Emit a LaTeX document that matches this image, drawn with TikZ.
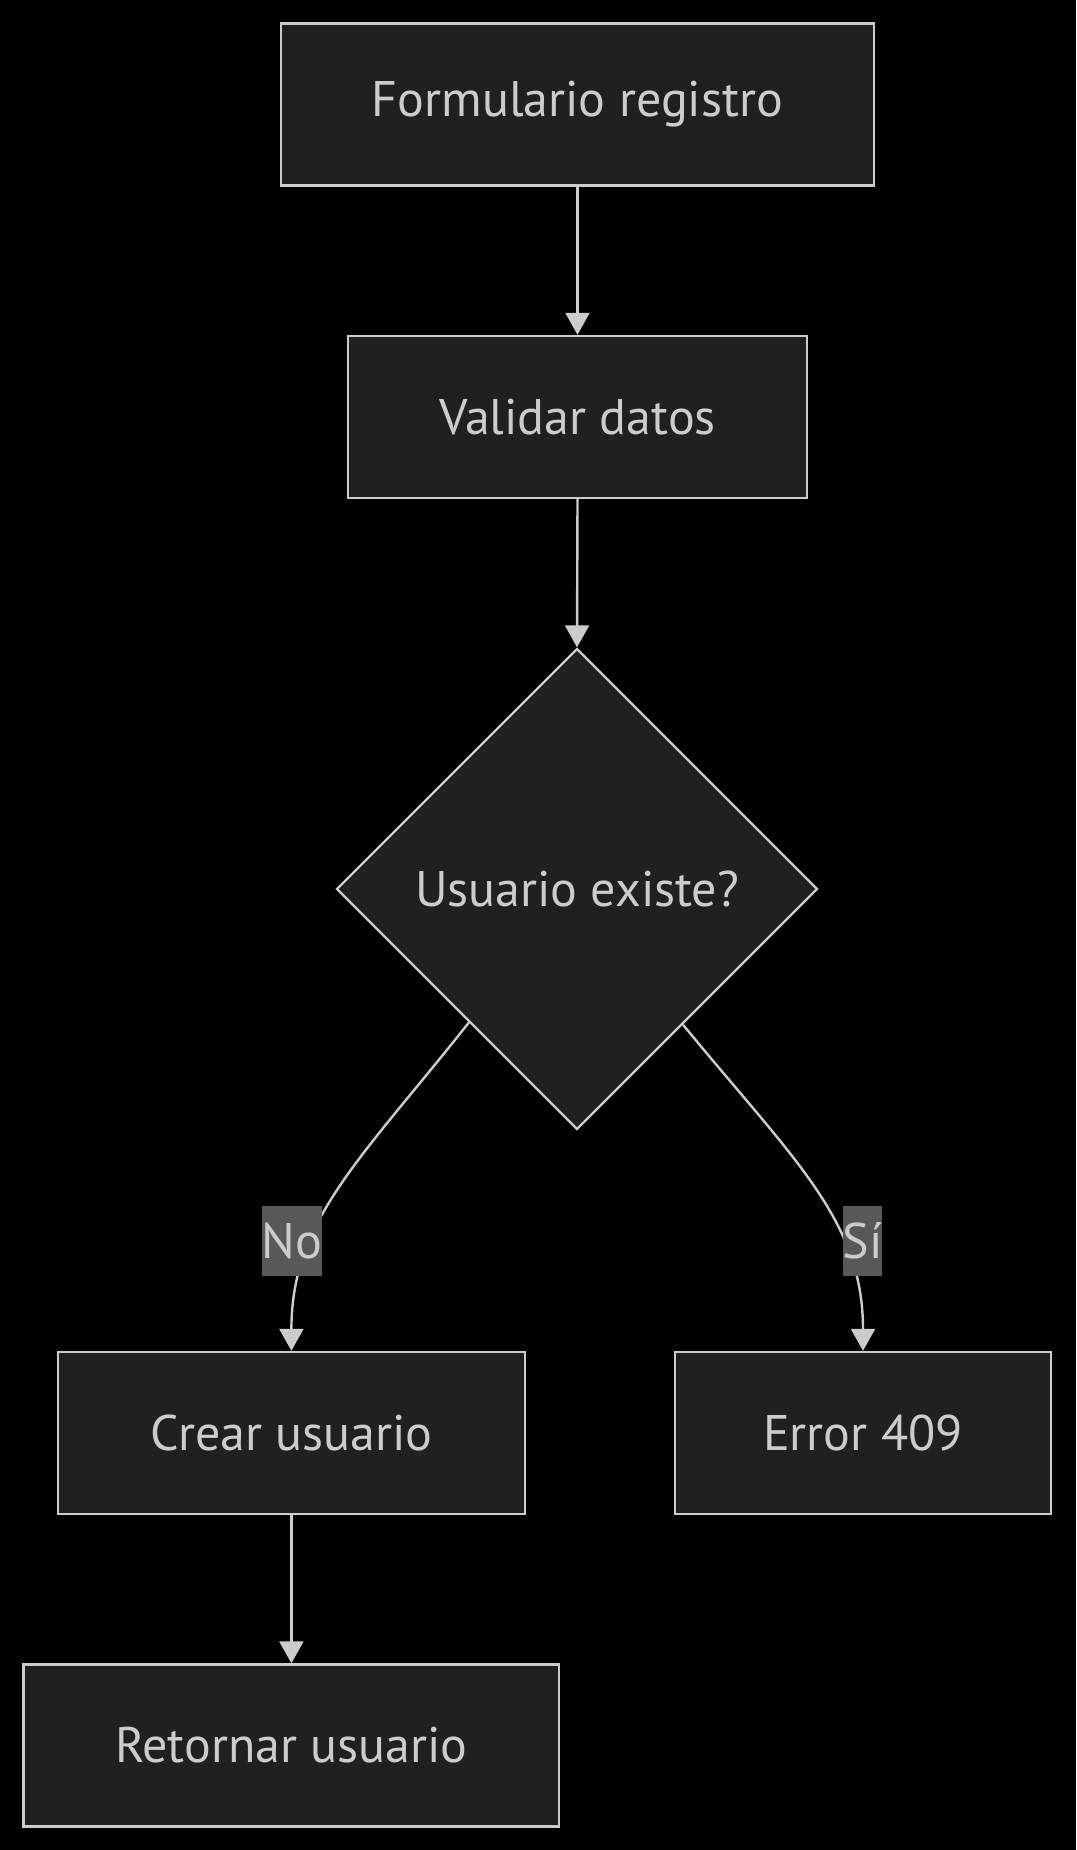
\documentclass[tikz,border=0pt]{standalone}
\usepackage{fontspec}
\setmainfont{PT Sans}
\usetikzlibrary{shapes.geometric,arrows.meta}
\definecolor{bg}{HTML}{000000}
\definecolor{boxfill}{HTML}{1F2020}
\definecolor{stroke}{HTML}{CCCCCC}
\definecolor{txt}{HTML}{CCCCCC}
\definecolor{lblfill}{HTML}{585858}
\tikzset{
  nodefont/.style={font=\fontsize{37.5}{44}\selectfont},
  box/.style={draw=stroke, fill=boxfill, line width=1.8pt, text=txt, inner sep=0pt,
    nodefont, minimum height=121.5pt},
  decision/.style={diamond, draw=stroke, fill=boxfill, line width=1.8pt, text=txt, inner sep=0pt,
    nodefont, minimum width=360.75pt, minimum height=360.75pt},
  edge/.style={draw=stroke, line width=1.8pt, -{Triangle[width=18pt,length=16.5pt]}},
  lbl/.style={fill=lblfill, text=txt, inner sep=0pt, nodefont,
    minimum height=53.1pt}
}
\begin{document}
\begin{tikzpicture}[x=0.75pt,y=-0.75pt]
\useasboundingbox (0,0) rectangle (1076,1850);
\fill[bg] (0,0) rectangle (1076,1850);
\node[box, minimum width=445.05pt] (A) at (577.5,104.4) {Formulario registro};
\node[box, minimum width=344.25pt] (B) at (577.5,417) {Validar datos};
\node[decision] (C) at (577,889) {Usuario existe?};
\node[box, minimum width=350.4pt] (D) at (291.4,1433) {Crear usuario};
\node[box, minimum width=282.3pt] (E) at (863,1433) {Error 409};
\node[box, minimum width=401.7pt] (F) at (291.4,1745.5) {Retornar usuario};
\coordinate (l1) at (360,1160);
\coordinate (l2) at (291.4,1220);
\coordinate (r1) at (794,1160);
\coordinate (r2) at (863,1220);
\draw[edge] (A.south) -- (B.north);
\draw[edge] (B.south) -- (C.north);
\draw[edge] (C.231.5) .. controls (l1) and (l2) .. (D.north);
\draw[edge] (C.308.5) .. controls (r1) and (r2) .. (E.north);
\draw[edge] (D.south) -- (F.north);
\node[lbl] (no) at (292,1241) {No};
\node[lbl] (si) at (862.5,1241) {Sí};
\end{tikzpicture}
\end{document}
